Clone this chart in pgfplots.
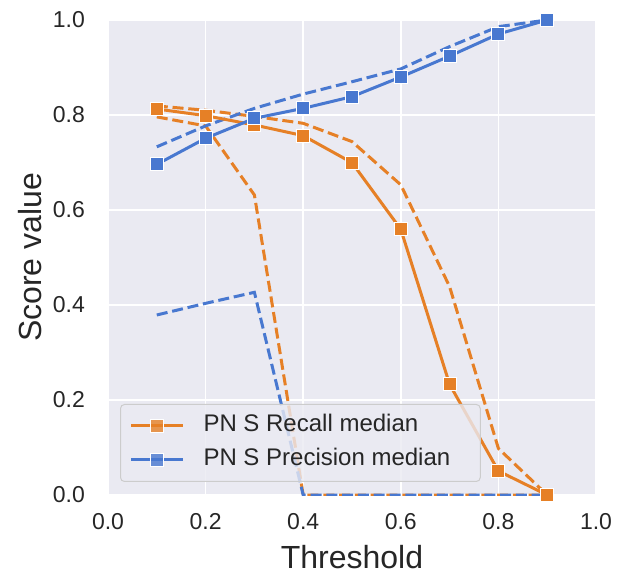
\documentclass[border=0pt]{standalone}
\usepackage{fontspec}
\setmainfont{Liberation Sans}
\usepackage{pgfplots}
\pgfplotsset{compat=1.18}
\definecolor{sbbg}{HTML}{EAEAF2}
\definecolor{sborange}{RGB}{230,128,38}
\definecolor{sbblue}{RGB}{72,120,208}
\definecolor{sbtext}{HTML}{262626}
\begin{document}
\begin{tikzpicture}
\begin{axis}[
  width=488bp, height=475bp, scale only axis,
  xmin=0, xmax=1, ymin=0, ymax=1,
  xtick={0,0.2,0.4,0.6,0.8,1.0},
  ytick={0,0.2,0.4,0.6,0.8,1.0},
  /pgf/number format/assume math mode=true,
  /pgf/number format/.cd, fixed, fixed zerofill, precision=1, /pgfplots/.cd,
  axis background/.style={fill=sbbg},
  axis line style={draw=none},
  major tick length=0pt,
  grid=major,
  major grid style={white, line width=1.5bp},
  tick label style={font=\fontsize{23bp}{27bp}\selectfont, text=sbtext},
  xticklabel style={anchor=center, inner sep=0pt, yshift=-27bp},
  yticklabel style={anchor=east, inner sep=0pt, xshift=-23bp},
  xlabel={Threshold},
  ylabel={Score value},
  label style={font=\fontsize{32bp}{38bp}\selectfont, text=sbtext},
  xlabel style={at={(axis description cs:0.5,-0.1305)}, anchor=center},
  ylabel style={at={(axis description cs:-0.16,0.5)}, anchor=center},
  clip=true,
  legend cell align=left,
  legend image code/.code={\draw[mark repeat=2,mark phase=2] plot coordinates {(0bp,0bp) (26bp,0bp) (52bp,0bp)};},
  legend style={at={(axis description cs:0.0246,0.0274)}, anchor=south west,
    fill=sbbg, fill opacity=0.8, text opacity=1, draw=black!20, line width=1bp,
    rounded corners=4bp, font=\fontsize{24bp}{29bp}\selectfont, text=sbtext,
    inner xsep=9bp, inner ysep=9bp, row sep=9bp, column sep=19bp,
    nodes={inner sep=0pt, text height=18bp, text depth=7bp}},
  ln/.style={line width=3bp},
  dashstyle/.style={ln, dash pattern=on 11bp off 4.8bp},
]
% orange dashed bounds
\addplot[sborange, dashstyle, forget plot] coordinates {
(0.1,0.819) (0.2,0.81) (0.3,0.797) (0.4,0.7825) (0.5,0.744) (0.6,0.653) (0.7,0.4386) (0.8,0.098) (0.9,0.0)};
\addplot[sborange, dashstyle, forget plot] coordinates {
(0.1,0.796) (0.2,0.777) (0.3,0.6316) (0.4,0.0) (0.5,0.0) (0.6,0.0) (0.7,0.0) (0.8,0.0) (0.9,0.0)};
% blue dashed bounds
\addplot[sbblue, dashstyle, forget plot] coordinates {
(0.1,0.733) (0.2,0.777) (0.3,0.814) (0.4,0.844) (0.5,0.870) (0.6,0.897) (0.7,0.944) (0.8,0.986) (0.9,1.0)};
\addplot[sbblue, dashstyle, forget plot] coordinates {
(0.1,0.379) (0.2,0.4035) (0.3,0.4267) (0.4,0.0) (0.5,0.0) (0.6,0.0) (0.7,0.0) (0.8,0.0) (0.9,0.0)};
% medians
\addplot[sborange, ln, mark=square*, mark size=6.5bp, mark options={solid, draw=white, fill=sborange, line width=1bp}] coordinates {
(0.1,0.8126) (0.2,0.7986) (0.3,0.779) (0.4,0.7565) (0.5,0.6996) (0.6,0.5594) (0.7,0.233) (0.8,0.0505) (0.9,0.0)};
\addlegendentry{PN S Recall median\hspace*{21bp}\mbox{}}
\addplot[sbblue, ln, mark=square*, mark size=6.5bp, mark options={solid, draw=white, fill=sbblue, line width=1bp}] coordinates {
(0.1,0.696) (0.2,0.751) (0.3,0.793) (0.4,0.814) (0.5,0.8386) (0.6,0.88) (0.7,0.924) (0.8,0.9705) (0.9,1.0)};
\addlegendentry{PN S Precision median\hspace*{21bp}\mbox{}}
\coordinate (bl) at (rel axis cs:0,0);
\end{axis}
\pgfresetboundingbox
\path (bl) ++(-108bp,-80bp) rectangle ++(626bp,575bp);
\end{tikzpicture}
\end{document}
